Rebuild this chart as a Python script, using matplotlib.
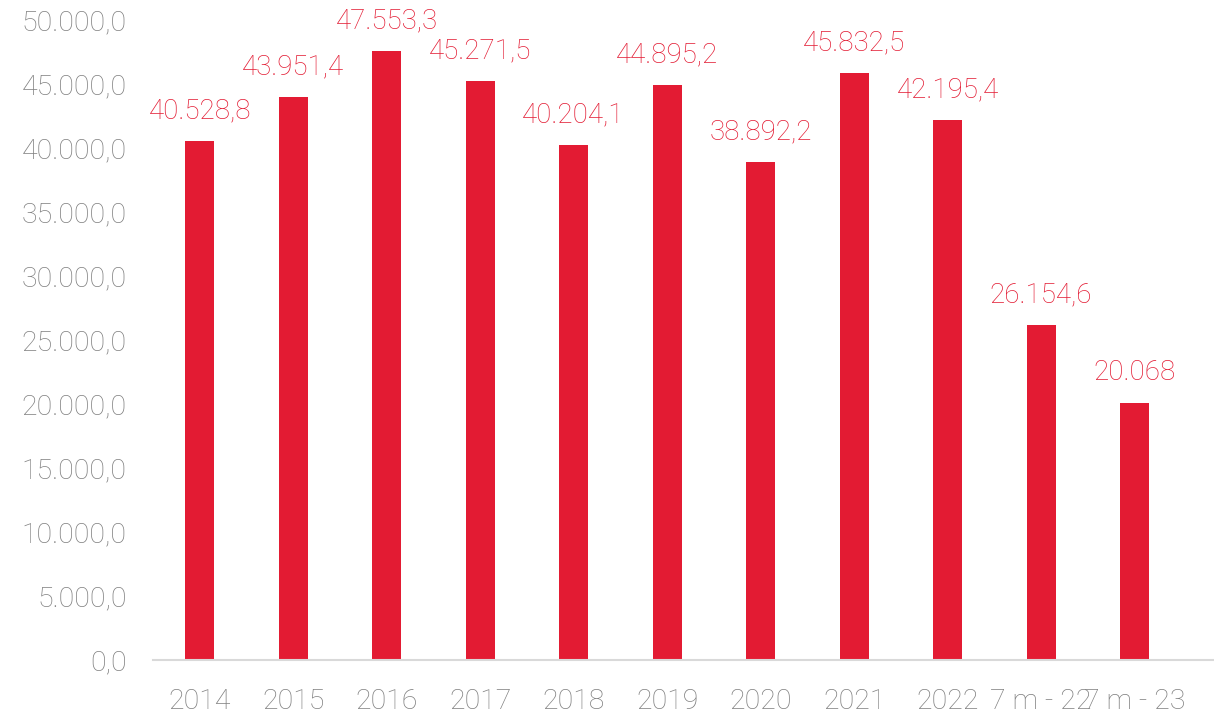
import matplotlib.pyplot as plt
import numpy as np

plt.rcParams['font.family'] = ['Roboto', 'DejaVu Sans']

# Valores anuales y acumulados a julio
periodos = ['2014', '2015', '2016', '2017', '2018', '2019', '2020', '2021', '2022', '7 m - 22', '7 m - 23']
valores = [40528.8, 43951.4, 47553.3, 45271.5, 40204.1, 44895.2, 38892.2, 45832.5, 42195.4, 26154.6, 20068]
etiquetas = ['40.528,8', '43.951,4', '47.553,3', '45.271,5', '40.204,1', '44.895,2',
             '38.892,2', '45.832,5', '42.195,4', '26.154,6', '20.068']

rojo = '#E31B33'
gris = '#7F7F7F'

fig = plt.figure(figsize=(12.14, 7.18), dpi=100)
ax = fig.add_axes([0.126, 0.081, 0.874, 0.891])

xi = np.arange(len(periodos))
barras = ax.bar(xi, valores, width=0.31, color=rojo)

for b, txt in zip(barras, etiquetas):
    ax.annotate(txt, (b.get_x() + b.get_width() / 2, b.get_height()),
                xytext=(0, 12), textcoords='offset points', ha='center', va='bottom',
                fontsize=20, color='#E31B33', fontweight='light')

ax.set_ylim(0, 50000)
ax.set_xlim(-0.5, 10.85)
ax.set_yticks(np.arange(0, 50001, 5000))
ax.set_yticklabels([f'{v:,.1f}'.replace(',', 'X').replace('.', ',').replace('X', '.')
                    for v in np.arange(0, 50001, 5000)])
ax.set_xticks(xi)
ax.set_xticklabels(periodos)

ax.tick_params(axis='both', length=0, colors=gris, labelsize=20.5)
ax.tick_params(axis='y', pad=19)
ax.tick_params(axis='x', pad=20)
for lbl in ax.get_xticklabels() + ax.get_yticklabels():
    lbl.set_fontweight('light')

for s in ['top', 'right', 'left']:
    ax.spines[s].set_visible(False)
ax.spines['bottom'].set_color('#D9D9D9')
ax.spines['bottom'].set_linewidth(1.5)

fig.savefig('out.png', dpi=100)
